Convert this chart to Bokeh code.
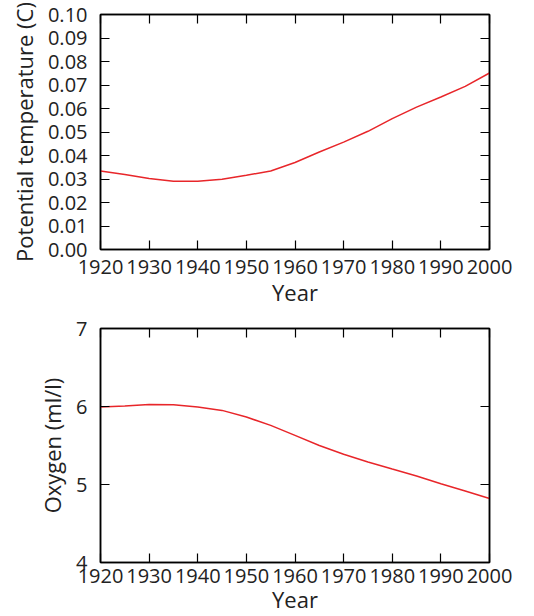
from bokeh.plotting import figure
from bokeh.layouts import column
from bokeh.models import LinearAxis, FixedTicker, Range1d, CustomJSTickFormatter
from bokeh.embed import file_html
from bokeh.resources import INLINE

years = [1920, 1925, 1930, 1935, 1940, 1945, 1950, 1955, 1960, 1965, 1970,
         1975, 1980, 1985, 1990, 1995, 2000]
temperature = [0.0334, 0.0319, 0.0302, 0.0290, 0.0290, 0.0299, 0.0316, 0.0334,
               0.0370, 0.0415, 0.0457, 0.0503, 0.0557, 0.0606, 0.0649, 0.0694, 0.0751]
oxygen = [5.993, 6.006, 6.027, 6.023, 5.993, 5.950, 5.865, 5.758, 5.630, 5.500,
          5.387, 5.289, 5.199, 5.110, 5.010, 4.917, 4.820]

x_ticks = [1920, 1930, 1940, 1950, 1960, 1970, 1980, 1990, 2000]
temp_ticks = [0.00, 0.01, 0.02, 0.03, 0.04, 0.05, 0.06, 0.07, 0.08, 0.09, 0.10]
temp_labels = {t: f"{t:.2f}" for t in temp_ticks}
oxy_ticks = [4, 5, 6, 7]

FONT = "Open Sans"
FS = "20px"
LFS = "22px"


def style_axis(ax, ticks, labels=True):
    ax.ticker = FixedTicker(ticks=ticks)
    ax.major_tick_in = 9
    ax.major_tick_out = 0
    ax.minor_tick_in = 0
    ax.minor_tick_out = 0
    ax.axis_line_color = "black"
    ax.axis_line_width = 1.5
    ax.major_tick_line_color = "black"
    ax.major_tick_line_width = 1.2
    ax.major_label_text_font = FONT
    ax.major_label_text_font_size = FS
    ax.major_label_text_color = "#222222"
    ax.axis_label_text_font = FONT
    ax.axis_label_text_font_size = LFS
    ax.axis_label_text_font_style = "normal"
    ax.axis_label_text_color = "#222222"
    if not labels:
        ax.formatter = CustomJSTickFormatter(code="return ''")
        ax.major_label_standoff = 0


def make(yvals, yrange, yticks, ylabel, label_overrides, top, bottom, left, right,
         height, xstand, xlabstand):
    p = figure(width=534, height=height, output_backend="svg", toolbar_location=None,
               x_range=Range1d(1920, 2000), y_range=Range1d(*yrange),
               min_border_left=left, min_border_right=right, min_border_top=top,
               min_border_bottom=bottom)
    p.grid.visible = False
    p.outline_line_color = "black"
    p.outline_line_width = 1.5
    p.line(years, yvals, line_color="#e8262a", line_width=1.5)
    style_axis(p.xaxis[0], x_ticks)
    style_axis(p.yaxis[0], yticks)
    p.xaxis[0].major_label_standoff = xstand
    p.xaxis[0].axis_label = "Year"
    p.xaxis[0].axis_label_standoff = xlabstand
    p.yaxis[0].major_label_standoff = 13
    p.yaxis[0].axis_label = ylabel
    p.yaxis[0].axis_label_standoff = 6
    if label_overrides:
        p.yaxis[0].major_label_overrides = label_overrides
    ta = LinearAxis()
    style_axis(ta, x_ticks, labels=False)
    p.add_layout(ta, "above")
    ra = LinearAxis()
    style_axis(ra, yticks, labels=False)
    p.add_layout(ra, "right")
    return p


p1 = make(temperature, (0, 0.10), temp_ticks, "Potential temperature (C)",
          temp_labels, 14, 61, 100, 44, 310, 10, 0)
p2 = make(oxygen, (4, 7), oxy_ticks, "Oxygen (ml/l)", None, 18, 54, 98, 45, 306, 6, -2)

layout = column(p1, p2, spacing=0)
open("out.html", "w").write(file_html(layout, INLINE))
